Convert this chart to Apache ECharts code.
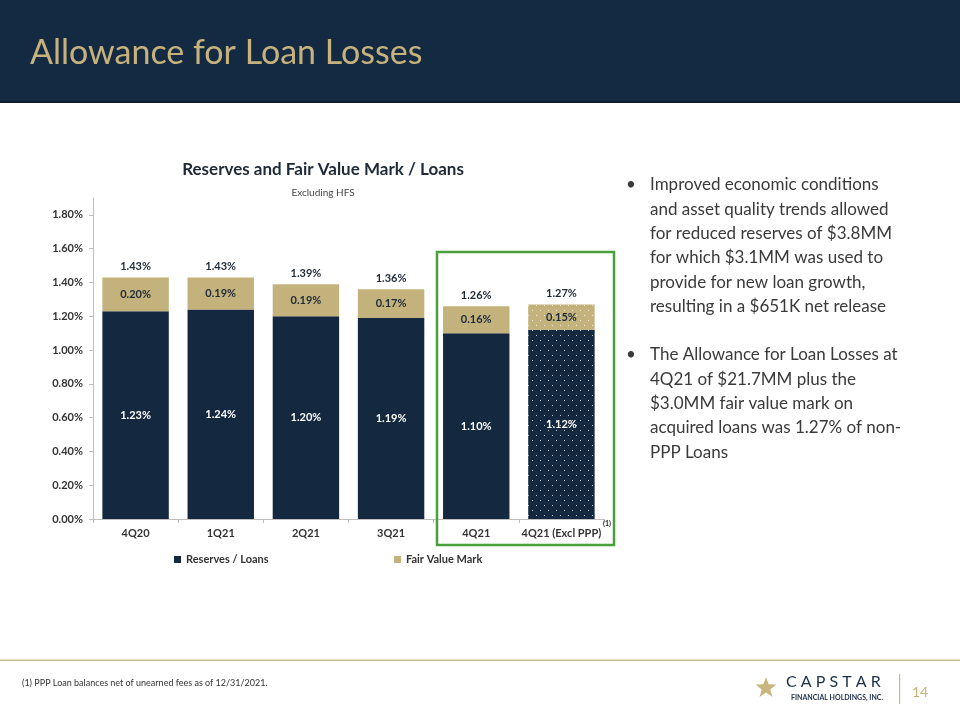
<!DOCTYPE html>
<html><head><meta charset="utf-8">
<script src="https://cdn.jsdelivr.net/npm/echarts@6/dist/echarts.min.js"></script>
<style>html,body{margin:0;padding:0;background:#fff}#c{width:960px;height:720px}</style>
</head><body><div id="c"></div>
<script>
const categories = ['4Q20','1Q21','2Q21','3Q21','4Q21','4Q21 (Excl PPP)'];
const reserves = [1.23, 1.24, 1.20, 1.19, 1.10, 1.12];
const fairValue = [0.20, 0.19, 0.19, 0.17, 0.16, 0.15];
const totals = [1.43, 1.43, 1.39, 1.36, 1.26, 1.27];
const yTicks = [0, 0.2, 0.4, 0.6, 0.8, 1.0, 1.2, 1.4, 1.6, 1.8];
const bullet1 = ['Improved economic conditions','and asset quality trends allowed','for reduced reserves of $3.8MM','for which $3.1MM was used to','provide for new loan growth,','resulting in a $651K net release'];
const bullet2 = ['The Allowance for Loan Losses at','4Q21 of $21.7MM plus the','$3.0MM fair value mark on','acquired loans was 1.27% of non-','PPP Loans'];

const NAVY = '#14283f', GOLD = '#c3b27b', FONT = 'Lato';
const dotDecal = {symbol:'rect', color:'rgba(255,255,255,0.75)', symbolSize:1,
  dashArrayX:[[1,7],[0,4,1,3]], dashArrayY:[1,3.5]};

const chart = echarts.init(document.getElementById('c'));
const g = [];
g.push({type:'rect', shape:{x:0,y:0,width:960,height:102}, style:{fill:'#142a42'}});
g.push({type:'rect', shape:{x:0,y:101,width:960,height:2}, style:{fill:'#0e1d2e'}});
g.push({type:'text', x:30, y:53, style:{text:'Allowance for Loan Losses', fill:'#c6b27c', font:'34px '+FONT, verticalAlign:'middle'}});
g.push({type:'rect', shape:{x:437,y:252,width:177,height:293}, style:{fill:'none', stroke:'#4aa13b', lineWidth:2.5}, z:10});
g.push({type:'text', x:603, y:524, style:{text:'(1)', fill:'#222', font:'bold 7px '+FONT, verticalAlign:'middle'}, z:11});
bullet1.forEach((t,i)=>{ g.push({type:'text', x:650, y:185+i*24.3, style:{text:t, fill:'#3a3a3a', font:'17px '+FONT, verticalAlign:'middle'}}); });
bullet2.forEach((t,i)=>{ g.push({type:'text', x:650, y:355+i*24.3, style:{text:t, fill:'#3a3a3a', font:'17px '+FONT, verticalAlign:'middle'}}); });
[185,355].forEach(y=>g.push({type:'text', x:626, y:y, style:{text:'•', fill:'#3a3a3a', font:'17px '+FONT, verticalAlign:'middle'}}));
g.push({type:'rect', shape:{x:0,y:659.5,width:960,height:1.5}, style:{fill:'#c9bb8f'}});
g.push({type:'text', x:22, y:683, style:{text:'(1) PPP Loan balances net of unearned fees as of 12/31/2021.', fill:'#333', font:'9px '+FONT, verticalAlign:'middle'}});
(function(){const cx=766, cy=688, R=11, r=4.5, pts=[];
 for(let i=0;i<10;i++){const a=-Math.PI/2+i*Math.PI/5; const rr=i%2?r:R; pts.push([cx+rr*Math.cos(a), cy+rr*Math.sin(a)]);}
 g.push({type:'polygon', shape:{points:pts}, style:{fill:'#c9b67f'}});})();
g.push({type:'text', x:786, y:682, style:{text:'C A P S T A R', fill:'#1c2f4a', font:'16px '+FONT, verticalAlign:'middle'}});
g.push({type:'text', x:791, y:698, style:{text:'FINANCIAL HOLDINGS, INC.', fill:'#1c2f4a', font:'bold 7px '+FONT, verticalAlign:'middle'}});
g.push({type:'rect', shape:{x:899,y:674,width:1.2,height:30}, style:{fill:'#c9bb8f'}});
g.push({type:'text', x:912, y:692, style:{text:'14', fill:'#c3b27b', font:'14px '+FONT, verticalAlign:'middle'}});

chart.setOption({
  animation:false,
  textStyle:{fontFamily:FONT},
  title:[{text:'Reserves and Fair Value Mark / Loans', left:318, top:156, textAlign:'center',
          textStyle:{fontSize:17, fontWeight:'bold', color:'#1e2a38', fontFamily:FONT}},
         {text:'Excluding HFS', left:318, top:183, textAlign:'center',
          textStyle:{fontSize:10, fontWeight:'normal', color:'#444', fontFamily:FONT}}],
  legend:[{data:['Reserves / Loans'], left:169, top:549, itemWidth:7, itemHeight:7, itemGap:5, icon:'rect',
            textStyle:{fontSize:11, fontWeight:'bold', color:'#333'}},
          {data:['Fair Value Mark'], left:389, top:549, itemWidth:7, itemHeight:7, icon:'rect',
            textStyle:{fontSize:11, fontWeight:'bold', color:'#333'}}],
  grid:{left:93, right:356, top:198, bottom:201},
  xAxis:{type:'category', data:categories,
    axisLine:{lineStyle:{color:'#bfbfbf'}}, axisTick:{show:true, length:4, lineStyle:{color:'#bfbfbf'}},
    axisLabel:{fontSize:11, fontWeight:'bold', color:'#333', margin:9, interval:0}},
  yAxis:{type:'value', min:0, max:1.9, interval:0.2,
    axisLine:{show:true, lineStyle:{color:'#bfbfbf'}}, axisTick:{show:true, length:4, lineStyle:{color:'#bfbfbf'}},
    splitLine:{show:false},
    axisLabel:{fontSize:11, fontWeight:'bold', color:'#333', margin:10, showMaxLabel:false,
      formatter:v=> yTicks.some(t=>Math.abs(t-v)<1e-6) ? v.toFixed(2)+'%' : ''}},
  series:[
    {name:'Reserves / Loans', type:'bar', stack:'a', barCategoryGap:'22%',
     data:reserves.map((v,i)=> i===5 ? {value:v, itemStyle:{decal:dotDecal}} : v),
     itemStyle:{color:NAVY},
     label:{show:true, position:'inside', color:'#fff', fontWeight:'bold', fontSize:11, formatter:p=>p.value.toFixed(2)+'%'}},
    {name:'Fair Value Mark', type:'bar', stack:'a',
     data:fairValue.map((v,i)=> i===5 ? {value:v, itemStyle:{decal:dotDecal}} : v),
     itemStyle:{color:GOLD},
     label:{show:true, position:'inside', color:'#1e2a38', fontWeight:'bold', fontSize:11, formatter:p=>p.value.toFixed(2)+'%'}},
    {name:'Total', type:'bar', barGap:'-100%', silent:true, data:totals,
     itemStyle:{color:'rgba(0,0,0,0)'}, z:1,
     label:{show:true, position:'top', distance:5, color:'#1e2a38', fontWeight:'bold', fontSize:11, formatter:p=>p.value.toFixed(2)+'%'}}
  ],
  graphic:g
});
</script></body></html>
